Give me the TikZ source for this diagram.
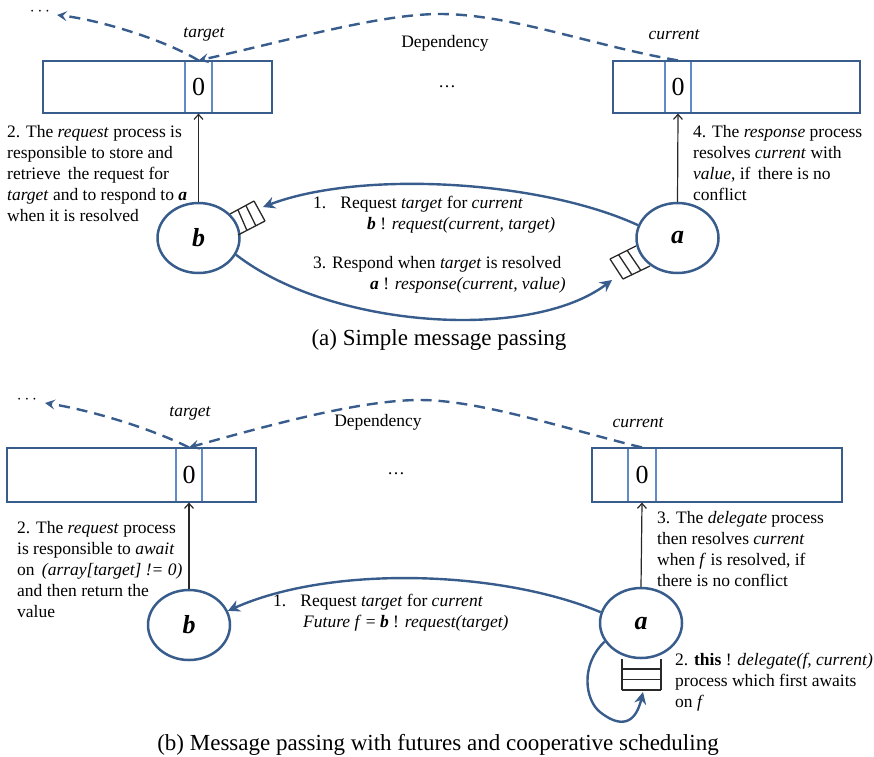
\documentclass[tikz,border=0pt]{standalone}
\usepackage{fontspec}
\setmainfont{Liberation Serif}
\usetikzlibrary{shapes.geometric,arrows.meta,calc}

\definecolor{edgeblue}{RGB}{56,93,140}
\definecolor{cellblue}{RGB}{95,140,200}
\definecolor{ink}{RGB}{40,40,40}

\begin{document}
\begin{tikzpicture}[x=1pt,y=-1pt,
  body/.style={inner sep=0pt, font=\fontsize{17.5}{21}\selectfont},
  block/.style={body, align=left, anchor=north west},
  line1/.style={body, anchor=base west},
  caption/.style={inner sep=0pt, font=\fontsize{23}{27}\selectfont, anchor=base},
  proc/.style={ellipse, draw=edgeblue, line width=2.5pt, minimum width=82pt,
    minimum height=70pt, inner sep=0pt, font=\fontsize{26}{26}\selectfont\bfseries\itshape},
  arraybox/.style={draw=edgeblue, line width=2.4pt, inner sep=0pt},
  cellbox/.style={draw=cellblue, line width=1.1pt, inner sep=0pt,
    font=\fontsize{26}{26}\selectfont},
  msg/.style={draw=edgeblue, line width=2.4pt, -{Stealth[length=12pt,width=12pt,inset=4pt]}},
  dep/.style={draw=edgeblue, line width=2.4pt, dash pattern=on 11pt off 7pt,
    -{Stealth[length=10pt,width=10pt,inset=4pt]}},
  upar/.style={draw=ink, line width=1.2pt, -{Straight Barb[length=5pt,width=9pt]}},
  queue/.style={draw=ink, line width=1.3pt},
]
\useasboundingbox (0,0) rectangle (874,756);

% ================= (a) Simple message passing =================
% arrays with the highlighted cells
\node[cellbox, minimum width=27pt, minimum height=52pt] (cellA1) at (198.5,87) {0};
\node[arraybox, minimum width=229pt, minimum height=52pt] (arrA1) at (157.5,87) {};
\node[cellbox, minimum width=26pt, minimum height=52pt] (cellA2) at (678,87) {0};
\node[arraybox, minimum width=247pt, minimum height=52pt] (arrA2) at (736.5,87) {};

\node[body, font=\fontsize{17.5}{21}\selectfont\itshape] (tgtA) at (204,34) {target};
\node[body, font=\fontsize{17.5}{21}\selectfont\itshape] (curA) at (674,35) {current};
\node[body] (depA) at (445,43) {Dependency};
\node[body] (midA) at (447,87) {\ldots};
\node[body] (dotsA) at (40,12) {$\cdots$};

% processes
\node[proc] (bA) at (198.5,238) {b};
\node[proc] (aA) at (677.5,238) {a};

% dependency chain
\coordinate (dotsTipA) at (57,15);
\draw[dep] (cellA1.north) .. controls (165,40) and (100,20) .. (dotsTipA);
\draw[dep] (cellA2.north) .. controls (590,45) and (510,14) .. (440,14)
  .. controls (380,14) and (290,40) .. (cellA1.north);

% processes write into the arrays
\draw[upar] (bA.north) -- (cellA1.south);
\draw[upar] (aA.north) -- (cellA2.south);

% mailbox of b
\coordinate (qbT0) at (230,214); \coordinate (qbT1) at (254,201);
\coordinate (qbB0) at (238,235); \coordinate (qbB1) at (265,221);
\draw[queue] (qbT0) -- (qbT1) (qbB0) -- (qbB1);
\foreach \f in {0.33,0.66,1.0}
  \draw[queue] ($(qbT0)!\f!(qbT1)$) -- ($(qbB0)!\f!(qbB1)$);

% mailbox of a
\coordinate (qaT0) at (610,259); \coordinate (qaT1) at (636,246);
\coordinate (qaB0) at (623,279); \coordinate (qaB1) at (650,266);
\draw[queue] (qaT0) -- (qaT1) (qaB0) -- (qaB1);
\foreach \f in {0,0.33,0.66}
  \draw[queue] ($(qaT0)!\f!(qaT1)$) -- ($(qaB0)!\f!(qaB1)$);

% messages
\coordinate (reqTipA) at (263,207);
\coordinate (resTipA) at (612,280);
\draw[msg] (aA.162) .. controls (540,180) and (360,170) .. (reqTipA);
\draw[msg] (bA.-24) .. controls (330,328) and (530,342) .. (resTipA);

\node[line1] (m1a) at (313,208) {1.\hspace{14pt}Request \textit{target} for \textit{current}};
\node[line1] (m1b) at (367,229) {\textbf{\textit{b}} ! \textit{request(current, target)}};
\node[line1] (m3a) at (313,268) {3. Respond when \textit{target} is resolved};
\node[line1] (m3b) at (370,289) {\textbf{\textit{a}} ! \textit{response(current, value)}};

\node[block] (noteA2) at (7,125) {2. The \textit{request} process is\\
  responsible to store and\\ retrieve\, the request for\\
  \textit{target} and to respond to \textbf{\textit{a}}\\ when it is resolved};
\node[block] (noteA4) at (693,125) {4. The \textit{response} process\\
  resolves \textit{current} with\\ \textit{value}, if\, there is no\\ conflict};

\node[caption] (capA) at (439,345) {(a) Simple message passing};

% ====== (b) Message passing with futures and cooperative scheduling ======
\node[cellbox, minimum width=26pt, minimum height=54pt] (cellB1) at (189,475) {0};
\node[arraybox, minimum width=249pt, minimum height=54pt] (arrB1) at (131.5,475) {};
\node[cellbox, minimum width=28pt, minimum height=54pt] (cellB2) at (642,475) {0};
\node[arraybox, minimum width=250pt, minimum height=54pt] (arrB2) at (717,475) {};

\node[body, font=\fontsize{17.5}{21}\selectfont\itshape] (tgtB) at (190,413) {target};
\node[body, font=\fontsize{17.5}{21}\selectfont\itshape] (curB) at (638,423) {current};
\node[body] (depB) at (378,422) {Dependency};
\node[body] (midB) at (396,474) {\ldots};
\node[body] (dotsB) at (27,400) {$\cdots$};

\node[proc] (bB) at (189,625) {b};
\node[proc] (aB) at (641,623) {a};

\coordinate (dotsTipB) at (45,403);
\draw[dep] (cellB1.north) .. controls (150,428) and (90,410) .. (dotsTipB);
\draw[dep] (cellB2.north) .. controls (570,430) and (480,400) .. (420,400)
  .. controls (360,400) and (270,425) .. (cellB1.north);

\draw[upar] (bB.north) -- (cellB1.south);
\draw[upar] (aB.north) -- (cellB2.south);

% request, answered by a future
\draw[msg] (aB.165) .. controls (500,570) and (330,565) .. (bB.20);

% a's own mailbox and the delegated message
\coordinate (qL0) at (622,659); \coordinate (qL1) at (622,690);
\coordinate (qR0) at (661,659); \coordinate (qR1) at (661,690);
\draw[queue] (qL0) -- (qL1) (qR0) -- (qR1);
\foreach \yy in {669,679.5,690}
  \draw[queue] (622,\yy) -- (661,\yy);

\coordinate (selfTip) at (643,692);
\draw[msg] (aB.207) .. controls (580,665) and (585,700) .. (600,712)
  .. controls (615,724) and (634,730) .. (selfTip);

\node[line1] (n1a) at (273,606) {1.\hspace{14pt}Request \textit{target} for \textit{current}};
\node[line1] (n1b) at (303,627) {\textit{Future f} = \textbf{\textit{b}} ! \textit{request(target)}};

\node[block] (noteB2) at (17,521) {2. The \textit{request} process\\
  is responsible to \textit{await}\\ on\, \textit{(array[target] != 0)}\\
  and then return the\\ value};
\node[block] (noteB3) at (657,511) {3. The \textit{delegate} process\\
  then resolves \textit{current}\\ when \textit{f} is resolved, if\\
  there is no conflict};
\node[block] (noteB2b) at (675,653) {2. \textbf{this} ! \textit{delegate(f, current)}\\
  process which first awaits\\ on \textit{f}};

\node[caption] (capB) at (438,750) {(b) Message passing with futures and cooperative scheduling};
\end{tikzpicture}
\end{document}
